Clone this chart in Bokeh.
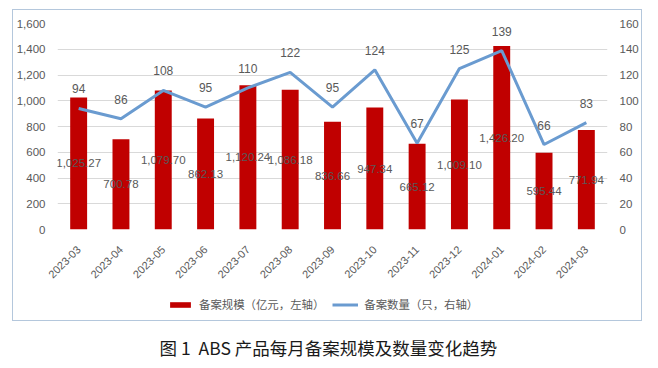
import math
from bokeh.plotting import figure
from bokeh.layouts import column
from bokeh.models import (Range1d, LinearAxis, Legend, LegendItem, Label,
                          NumeralTickFormatter, FixedTicker, ColumnDataSource)
from bokeh.core.properties import value
from bokeh.embed import file_html
from bokeh.resources import INLINE

months = ["2023-03", "2023-04", "2023-05", "2023-06", "2023-07", "2023-08", "2023-09",
          "2023-10", "2023-11", "2023-12", "2024-01", "2024-02", "2024-03"]
scale = [1025.27, 700.78, 1079.70, 862.13, 1120.24, 1086.18, 836.66,
         947.34, 665.12, 1009.10, 1426.20, 595.44, 771.94]
count = [94, 86, 108, 95, 110, 122, 95, 124, 67, 125, 139, 66, 83]
left_ticks = [0, 200, 400, 600, 800, 1000, 1200, 1400, 1600]
right_ticks = [0, 20, 40, 60, 80, 100, 120, 140, 160]
bar_name = "备案规模（亿元，左轴）"
line_name = "备案数量（只，右轴）"
caption = "图\u00a01\u00a0\u00a0ABS\u00a0产品每月备案规模及数量变化趋势"

GRAY = "#595959"
FONT = "Liberation Sans"
CJK = "Noto Sans CJK SC"
BOX = "1px solid #B4C7DC"
BAR_COLOR = "#C00000"
LINE_COLOR = "#6A9BD0"

src = ColumnDataSource(dict(
    m=months, s=scale, c=count,
    half=[v / 2 for v in scale],
    slab=[f"{v:,.2f}" for v in scale],
    clab=[str(v) for v in count],
))

# ---- main chart (top part of the bordered box) ----
p = figure(x_range=months, y_range=Range1d(0, 1600), width=630, height=276,
           output_backend="svg", toolbar_location=None,
           min_border_left=44, min_border_right=36, min_border_top=13, min_border_bottom=57,
           margin=(9, 0, 0, 12),
           styles={"border-left": BOX, "border-right": BOX, "border-top": BOX})
p.outline_line_color = None
p.xgrid.grid_line_color = None
p.ygrid.grid_line_color = "#D9D9D9"
p.ygrid.ticker = FixedTicker(ticks=left_ticks)
p.extra_y_ranges = {"right": Range1d(0, 160)}

ya = p.yaxis[0]
ya.ticker = FixedTicker(ticks=left_ticks)
ya.formatter = NumeralTickFormatter(format="0,0")
ra = LinearAxis(y_range_name="right", ticker=FixedTicker(ticks=right_ticks))
p.add_layout(ra, "right")
for ax in (ya, ra):
    ax.axis_line_color = None
    ax.major_tick_line_color = None
    ax.minor_tick_line_color = None
    ax.major_label_text_color = GRAY
    ax.major_label_text_font = FONT
    ax.major_label_text_font_size = "11.5px"
    ax.major_label_standoff = 6

xa = p.xaxis[0]
xa.axis_line_color = None
xa.major_tick_line_color = None
xa.major_label_orientation = math.pi / 4
xa.major_label_text_color = GRAY
xa.major_label_text_font = FONT
xa.major_label_text_font_size = "11px"
xa.major_label_standoff = 12

p.vbar(x="m", top="s", width=0.4, source=src, fill_color=BAR_COLOR, line_color=None)
p.line(x="m", y="c", source=src, y_range_name="right", line_color=LINE_COLOR, line_width=3)

p.text(x="m", y="half", text="slab", source=src, text_align="center", text_baseline="middle",
       text_color=GRAY, text_font=value(FONT), text_font_size="11.5px")
p.text(x="m", y="c", text="clab", source=src, y_range_name="right", text_align="center",
       text_baseline="bottom", y_offset=-15, text_color=GRAY, text_font=value(FONT),
       text_font_size="12px")

# ---- legend strip (bottom part of the bordered box) ----
lg = figure(width=630, height=36, x_range=Range1d(0, 1), y_range=Range1d(0, 1),
            output_backend="svg", toolbar_location=None,
            x_axis_location=None, y_axis_location=None, min_border=0,
            margin=(0, 0, 0, 12),
            styles={"border-left": BOX, "border-right": BOX, "border-bottom": BOX})
lg.grid.visible = False
lg.outline_line_color = None
# zero-size placeholder glyphs that only provide the legend swatches
lb = lg.vbar(x=[0], top=[0], width=0, fill_color=BAR_COLOR, line_color=None)
ll = lg.line(x=[0], y=[0], line_color=LINE_COLOR, line_width=3)
legend = Legend(items=[LegendItem(label=bar_name, renderers=[lb]),
                       LegendItem(label=line_name, renderers=[ll])],
                orientation="horizontal", location=(110, 9),
                label_text_font=CJK, label_text_font_size="11.4px", label_text_color=GRAY,
                glyph_width=26, glyph_height=7, label_standoff=6, spacing=8,
                padding=2, margin=0, border_line_color=None, background_fill_alpha=0)
lg.add_layout(legend, "center")

# ---- caption ----
cap = figure(width=658, height=45, x_range=Range1d(0, 658), y_range=Range1d(0, 45),
             output_backend="svg", toolbar_location=None,
             x_axis_location=None, y_axis_location=None, min_border=0)
cap.grid.visible = False
cap.outline_line_color = None
cap.add_layout(Label(x=131, y=19, text=caption,
                     text_align="left", text_baseline="middle", text_color="#1A1A1A",
                     text_font=CJK, text_font_size="17.5px"))

layout = column(p, lg, cap, spacing=0)
open("out.html", "w").write(file_html(layout, INLINE))
